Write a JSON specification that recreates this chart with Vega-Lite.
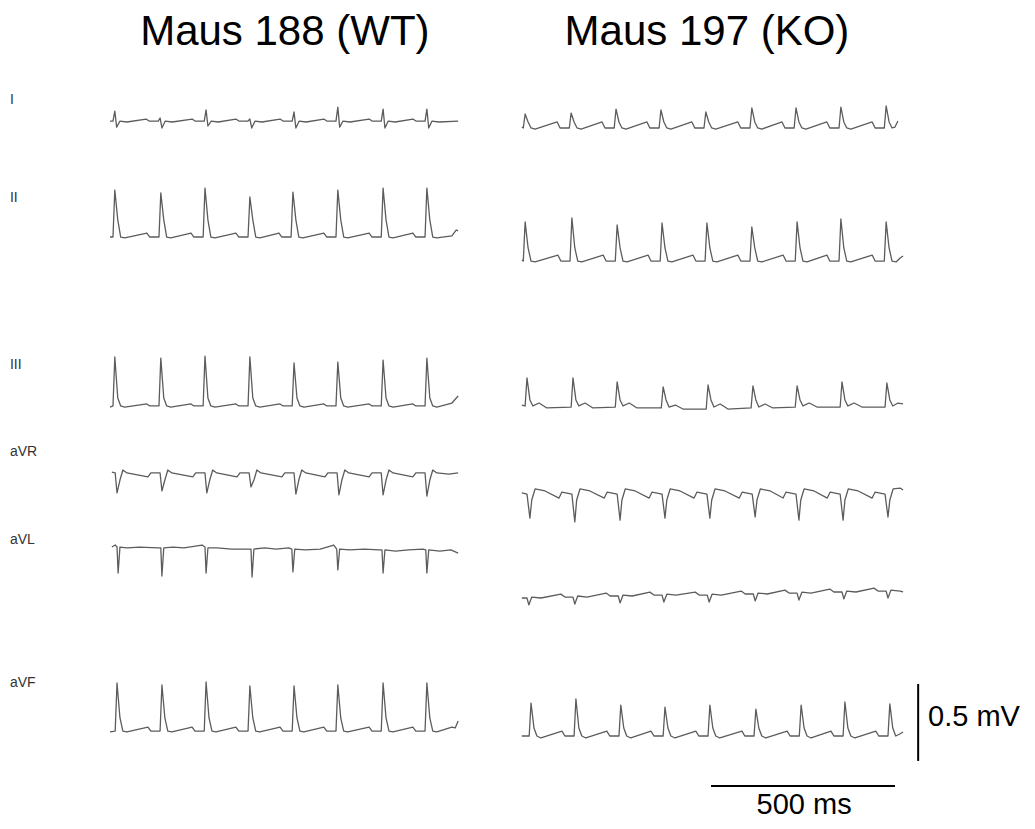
{
  "$schema": "https://vega.github.io/schema/vega-lite/v6.json",
  "width": 1035,
  "height": 829,
  "padding": 0,
  "autosize": {"type": "none"},
  "background": "white",
  "config": {"view": {"stroke": null}},
  "encoding": {
    "x": {"field": "t", "type": "quantitative", "title": "Zeit (ms)", "scale": {"domain": [0, 2812.5], "nice": false, "zero": false}, "axis": null},
    "y": {"field": "v", "type": "quantitative", "title": "Spannung (mV)", "scale": {"domain": [0, 5.3831], "nice": false, "zero": false}, "axis": null}
  },
  "layer": [
    {
      "data": {"values": [
{"s":"WT-I","t":299,"v":4.597},{"s":"WT-I","t":307,"v":4.597},{"s":"WT-I","t":312,"v":4.662},{"s":"WT-I","t":317,"v":4.558},{"s":"WT-I","t":326,"v":4.597},{"s":"WT-I","t":345,"v":4.591},
{"s":"WT-I","t":397,"v":4.610},{"s":"WT-I","t":405,"v":4.597},{"s":"WT-I","t":430,"v":4.597},{"s":"WT-I","t":435,"v":4.617},{"s":"WT-I","t":440,"v":4.552},{"s":"WT-I","t":449,"v":4.597},{"s":"WT-I","t":468,"v":4.591},
{"s":"WT-I","t":522,"v":4.610},{"s":"WT-I","t":530,"v":4.597},{"s":"WT-I","t":555,"v":4.597},{"s":"WT-I","t":560,"v":4.669},{"s":"WT-I","t":565,"v":4.565},{"s":"WT-I","t":574,"v":4.597},{"s":"WT-I","t":593,"v":4.591},
{"s":"WT-I","t":641,"v":4.610},{"s":"WT-I","t":649,"v":4.597},{"s":"WT-I","t":674,"v":4.597},{"s":"WT-I","t":679,"v":4.610},{"s":"WT-I","t":684,"v":4.552},{"s":"WT-I","t":693,"v":4.597},{"s":"WT-I","t":712,"v":4.591},
{"s":"WT-I","t":761,"v":4.610},{"s":"WT-I","t":769,"v":4.597},{"s":"WT-I","t":794,"v":4.597},{"s":"WT-I","t":799,"v":4.656},{"s":"WT-I","t":804,"v":4.552},{"s":"WT-I","t":813,"v":4.597},{"s":"WT-I","t":832,"v":4.591},
{"s":"WT-I","t":880,"v":4.610},{"s":"WT-I","t":888,"v":4.597},{"s":"WT-I","t":913,"v":4.597},{"s":"WT-I","t":918,"v":4.688},{"s":"WT-I","t":923,"v":4.558},{"s":"WT-I","t":932,"v":4.597},{"s":"WT-I","t":951,"v":4.591},
{"s":"WT-I","t":1003,"v":4.610},{"s":"WT-I","t":1011,"v":4.597},{"s":"WT-I","t":1036,"v":4.597},{"s":"WT-I","t":1041,"v":4.675},{"s":"WT-I","t":1046,"v":4.552},{"s":"WT-I","t":1055,"v":4.597},{"s":"WT-I","t":1074,"v":4.591},
{"s":"WT-I","t":1122,"v":4.610},{"s":"WT-I","t":1130,"v":4.597},{"s":"WT-I","t":1155,"v":4.597},{"s":"WT-I","t":1160,"v":4.675},{"s":"WT-I","t":1165,"v":4.552},{"s":"WT-I","t":1174,"v":4.597},{"s":"WT-I","t":1193,"v":4.591},
{"s":"WT-I","t":1245,"v":4.597},

{"s":"WT-II","t":299,"v":3.844},{"s":"WT-II","t":307,"v":3.844},{"s":"WT-II","t":312,"v":4.149},{"s":"WT-II","t":320,"v":3.955},{"s":"WT-II","t":328,"v":3.844},{"s":"WT-II","t":339,"v":3.838},
{"s":"WT-II","t":399,"v":3.870},{"s":"WT-II","t":407,"v":3.844},{"s":"WT-II","t":432,"v":3.844},{"s":"WT-II","t":437,"v":4.130},{"s":"WT-II","t":445,"v":3.955},{"s":"WT-II","t":453,"v":3.844},{"s":"WT-II","t":464,"v":3.838},
{"s":"WT-II","t":519,"v":3.870},{"s":"WT-II","t":527,"v":3.844},{"s":"WT-II","t":552,"v":3.844},{"s":"WT-II","t":557,"v":4.162},{"s":"WT-II","t":565,"v":3.955},{"s":"WT-II","t":573,"v":3.844},{"s":"WT-II","t":584,"v":3.838},
{"s":"WT-II","t":641,"v":3.870},{"s":"WT-II","t":649,"v":3.844},{"s":"WT-II","t":674,"v":3.844},{"s":"WT-II","t":679,"v":4.104},{"s":"WT-II","t":687,"v":3.955},{"s":"WT-II","t":695,"v":3.844},{"s":"WT-II","t":706,"v":3.838},
{"s":"WT-II","t":758,"v":3.870},{"s":"WT-II","t":766,"v":3.844},{"s":"WT-II","t":791,"v":3.844},{"s":"WT-II","t":796,"v":4.136},{"s":"WT-II","t":804,"v":3.955},{"s":"WT-II","t":812,"v":3.844},{"s":"WT-II","t":823,"v":3.838},
{"s":"WT-II","t":880,"v":3.870},{"s":"WT-II","t":888,"v":3.844},{"s":"WT-II","t":913,"v":3.844},{"s":"WT-II","t":918,"v":4.149},{"s":"WT-II","t":926,"v":3.955},{"s":"WT-II","t":934,"v":3.844},{"s":"WT-II","t":945,"v":3.838},
{"s":"WT-II","t":1003,"v":3.870},{"s":"WT-II","t":1011,"v":3.844},{"s":"WT-II","t":1036,"v":3.844},{"s":"WT-II","t":1041,"v":4.162},{"s":"WT-II","t":1049,"v":3.955},{"s":"WT-II","t":1057,"v":3.844},{"s":"WT-II","t":1068,"v":3.838},
{"s":"WT-II","t":1122,"v":3.870},{"s":"WT-II","t":1130,"v":3.844},{"s":"WT-II","t":1155,"v":3.844},{"s":"WT-II","t":1160,"v":4.162},{"s":"WT-II","t":1168,"v":3.955},{"s":"WT-II","t":1176,"v":3.844},{"s":"WT-II","t":1187,"v":3.838},
{"s":"WT-II","t":1228,"v":3.851},{"s":"WT-II","t":1240,"v":3.890},{"s":"WT-II","t":1245,"v":3.883},

{"s":"WT-III","t":299,"v":2.740},{"s":"WT-III","t":307,"v":2.747},{"s":"WT-III","t":312,"v":3.065},{"s":"WT-III","t":320,"v":2.799},{"s":"WT-III","t":328,"v":2.747},{"s":"WT-III","t":339,"v":2.740},
{"s":"WT-III","t":399,"v":2.760},{"s":"WT-III","t":407,"v":2.747},{"s":"WT-III","t":432,"v":2.747},{"s":"WT-III","t":437,"v":3.058},{"s":"WT-III","t":445,"v":2.799},{"s":"WT-III","t":453,"v":2.747},{"s":"WT-III","t":464,"v":2.740},
{"s":"WT-III","t":519,"v":2.760},{"s":"WT-III","t":527,"v":2.747},{"s":"WT-III","t":552,"v":2.747},{"s":"WT-III","t":557,"v":3.071},{"s":"WT-III","t":565,"v":2.799},{"s":"WT-III","t":573,"v":2.747},{"s":"WT-III","t":584,"v":2.740},
{"s":"WT-III","t":641,"v":2.760},{"s":"WT-III","t":649,"v":2.747},{"s":"WT-III","t":674,"v":2.747},{"s":"WT-III","t":679,"v":3.065},{"s":"WT-III","t":687,"v":2.799},{"s":"WT-III","t":695,"v":2.747},{"s":"WT-III","t":706,"v":2.740},
{"s":"WT-III","t":761,"v":2.760},{"s":"WT-III","t":769,"v":2.747},{"s":"WT-III","t":794,"v":2.747},{"s":"WT-III","t":799,"v":3.026},{"s":"WT-III","t":807,"v":2.799},{"s":"WT-III","t":815,"v":2.747},{"s":"WT-III","t":826,"v":2.740},
{"s":"WT-III","t":880,"v":2.760},{"s":"WT-III","t":888,"v":2.747},{"s":"WT-III","t":913,"v":2.747},{"s":"WT-III","t":918,"v":3.032},{"s":"WT-III","t":926,"v":2.799},{"s":"WT-III","t":934,"v":2.747},{"s":"WT-III","t":945,"v":2.740},
{"s":"WT-III","t":1003,"v":2.760},{"s":"WT-III","t":1011,"v":2.747},{"s":"WT-III","t":1036,"v":2.747},{"s":"WT-III","t":1041,"v":3.045},{"s":"WT-III","t":1049,"v":2.799},{"s":"WT-III","t":1057,"v":2.747},{"s":"WT-III","t":1068,"v":2.740},
{"s":"WT-III","t":1122,"v":2.760},{"s":"WT-III","t":1130,"v":2.747},{"s":"WT-III","t":1155,"v":2.747},{"s":"WT-III","t":1160,"v":3.058},{"s":"WT-III","t":1168,"v":2.799},{"s":"WT-III","t":1176,"v":2.747},{"s":"WT-III","t":1187,"v":2.740},
{"s":"WT-III","t":1228,"v":2.766},{"s":"WT-III","t":1245,"v":2.812},

{"s":"WT-aVR","t":304,"v":2.318},{"s":"WT-aVR","t":313,"v":2.312},{"s":"WT-aVR","t":318,"v":2.182},{"s":"WT-aVR","t":326,"v":2.266},{"s":"WT-aVR","t":334,"v":2.331},{"s":"WT-aVR","t":345,"v":2.312},
{"s":"WT-aVR","t":402,"v":2.286},{"s":"WT-aVR","t":410,"v":2.312},{"s":"WT-aVR","t":435,"v":2.312},{"s":"WT-aVR","t":440,"v":2.195},{"s":"WT-aVR","t":448,"v":2.266},{"s":"WT-aVR","t":456,"v":2.331},{"s":"WT-aVR","t":467,"v":2.312},
{"s":"WT-aVR","t":524,"v":2.286},{"s":"WT-aVR","t":532,"v":2.312},{"s":"WT-aVR","t":557,"v":2.312},{"s":"WT-aVR","t":562,"v":2.182},{"s":"WT-aVR","t":570,"v":2.266},{"s":"WT-aVR","t":578,"v":2.331},{"s":"WT-aVR","t":589,"v":2.312},
{"s":"WT-aVR","t":644,"v":2.286},{"s":"WT-aVR","t":652,"v":2.312},{"s":"WT-aVR","t":677,"v":2.312},{"s":"WT-aVR","t":682,"v":2.221},{"s":"WT-aVR","t":690,"v":2.266},{"s":"WT-aVR","t":698,"v":2.331},{"s":"WT-aVR","t":709,"v":2.312},
{"s":"WT-aVR","t":766,"v":2.286},{"s":"WT-aVR","t":774,"v":2.312},{"s":"WT-aVR","t":799,"v":2.312},{"s":"WT-aVR","t":804,"v":2.175},{"s":"WT-aVR","t":812,"v":2.266},{"s":"WT-aVR","t":820,"v":2.331},{"s":"WT-aVR","t":831,"v":2.312},
{"s":"WT-aVR","t":883,"v":2.286},{"s":"WT-aVR","t":891,"v":2.312},{"s":"WT-aVR","t":916,"v":2.312},{"s":"WT-aVR","t":921,"v":2.169},{"s":"WT-aVR","t":929,"v":2.266},{"s":"WT-aVR","t":937,"v":2.331},{"s":"WT-aVR","t":948,"v":2.312},
{"s":"WT-aVR","t":1003,"v":2.286},{"s":"WT-aVR","t":1011,"v":2.312},{"s":"WT-aVR","t":1036,"v":2.312},{"s":"WT-aVR","t":1041,"v":2.169},{"s":"WT-aVR","t":1049,"v":2.266},{"s":"WT-aVR","t":1057,"v":2.331},{"s":"WT-aVR","t":1068,"v":2.312},
{"s":"WT-aVR","t":1122,"v":2.286},{"s":"WT-aVR","t":1130,"v":2.312},{"s":"WT-aVR","t":1155,"v":2.312},{"s":"WT-aVR","t":1160,"v":2.162},{"s":"WT-aVR","t":1168,"v":2.266},{"s":"WT-aVR","t":1176,"v":2.331},{"s":"WT-aVR","t":1187,"v":2.312},
{"s":"WT-aVR","t":1220,"v":2.305},{"s":"WT-aVR","t":1245,"v":2.312},

{"s":"WT-aVL","t":304,"v":1.831},{"s":"WT-aVL","t":313,"v":1.844},{"s":"WT-aVL","t":318,"v":1.831},{"s":"WT-aVL","t":321,"v":1.662},{"s":"WT-aVL","t":326,"v":1.831},{"s":"WT-aVL","t":345,"v":1.825},{"s":"WT-aVL","t":380,"v":1.831},
{"s":"WT-aVL","t":430,"v":1.825},{"s":"WT-aVL","t":437,"v":1.825},{"s":"WT-aVL","t":440,"v":1.643},{"s":"WT-aVL","t":445,"v":1.825},{"s":"WT-aVL","t":470,"v":1.831},{"s":"WT-aVL","t":500,"v":1.825},
{"s":"WT-aVL","t":549,"v":1.844},{"s":"WT-aVL","t":557,"v":1.831},{"s":"WT-aVL","t":560,"v":1.662},{"s":"WT-aVL","t":565,"v":1.825},{"s":"WT-aVL","t":590,"v":1.825},{"s":"WT-aVL","t":630,"v":1.818},
{"s":"WT-aVL","t":674,"v":1.818},{"s":"WT-aVL","t":682,"v":1.818},{"s":"WT-aVL","t":685,"v":1.636},{"s":"WT-aVL","t":690,"v":1.818},{"s":"WT-aVL","t":720,"v":1.825},{"s":"WT-aVL","t":750,"v":1.818},
{"s":"WT-aVL","t":785,"v":1.825},{"s":"WT-aVL","t":793,"v":1.818},{"s":"WT-aVL","t":796,"v":1.669},{"s":"WT-aVL","t":801,"v":1.818},{"s":"WT-aVL","t":830,"v":1.812},{"s":"WT-aVL","t":870,"v":1.818},
{"s":"WT-aVL","t":907,"v":1.844},{"s":"WT-aVL","t":915,"v":1.818},{"s":"WT-aVL","t":918,"v":1.682},{"s":"WT-aVL","t":923,"v":1.818},{"s":"WT-aVL","t":950,"v":1.812},{"s":"WT-aVL","t":990,"v":1.818},
{"s":"WT-aVL","t":1030,"v":1.812},{"s":"WT-aVL","t":1038,"v":1.812},{"s":"WT-aVL","t":1041,"v":1.662},{"s":"WT-aVL","t":1046,"v":1.812},{"s":"WT-aVL","t":1075,"v":1.805},{"s":"WT-aVL","t":1110,"v":1.812},
{"s":"WT-aVL","t":1149,"v":1.818},{"s":"WT-aVL","t":1157,"v":1.812},{"s":"WT-aVL","t":1160,"v":1.662},{"s":"WT-aVL","t":1165,"v":1.812},{"s":"WT-aVL","t":1195,"v":1.805},{"s":"WT-aVL","t":1225,"v":1.812},
{"s":"WT-aVL","t":1245,"v":1.792},

{"s":"WT-aVF","t":299,"v":0.630},{"s":"WT-aVF","t":313,"v":0.636},{"s":"WT-aVF","t":318,"v":0.948},{"s":"WT-aVF","t":326,"v":0.721},{"s":"WT-aVF","t":334,"v":0.636},{"s":"WT-aVF","t":345,"v":0.630},
{"s":"WT-aVF","t":402,"v":0.662},{"s":"WT-aVF","t":410,"v":0.636},{"s":"WT-aVF","t":435,"v":0.636},{"s":"WT-aVF","t":440,"v":0.935},{"s":"WT-aVF","t":448,"v":0.721},{"s":"WT-aVF","t":456,"v":0.636},{"s":"WT-aVF","t":467,"v":0.630},
{"s":"WT-aVF","t":522,"v":0.662},{"s":"WT-aVF","t":530,"v":0.636},{"s":"WT-aVF","t":555,"v":0.636},{"s":"WT-aVF","t":560,"v":0.955},{"s":"WT-aVF","t":568,"v":0.721},{"s":"WT-aVF","t":576,"v":0.636},{"s":"WT-aVF","t":587,"v":0.630},
{"s":"WT-aVF","t":641,"v":0.662},{"s":"WT-aVF","t":649,"v":0.636},{"s":"WT-aVF","t":674,"v":0.636},{"s":"WT-aVF","t":679,"v":0.929},{"s":"WT-aVF","t":687,"v":0.721},{"s":"WT-aVF","t":695,"v":0.636},{"s":"WT-aVF","t":706,"v":0.630},
{"s":"WT-aVF","t":761,"v":0.662},{"s":"WT-aVF","t":769,"v":0.636},{"s":"WT-aVF","t":794,"v":0.636},{"s":"WT-aVF","t":799,"v":0.929},{"s":"WT-aVF","t":807,"v":0.721},{"s":"WT-aVF","t":815,"v":0.636},{"s":"WT-aVF","t":826,"v":0.630},
{"s":"WT-aVF","t":880,"v":0.662},{"s":"WT-aVF","t":888,"v":0.636},{"s":"WT-aVF","t":913,"v":0.636},{"s":"WT-aVF","t":918,"v":0.935},{"s":"WT-aVF","t":926,"v":0.721},{"s":"WT-aVF","t":934,"v":0.636},{"s":"WT-aVF","t":945,"v":0.630},
{"s":"WT-aVF","t":1003,"v":0.662},{"s":"WT-aVF","t":1011,"v":0.636},{"s":"WT-aVF","t":1036,"v":0.636},{"s":"WT-aVF","t":1041,"v":0.948},{"s":"WT-aVF","t":1049,"v":0.721},{"s":"WT-aVF","t":1057,"v":0.636},{"s":"WT-aVF","t":1068,"v":0.630},
{"s":"WT-aVF","t":1122,"v":0.662},{"s":"WT-aVF","t":1130,"v":0.636},{"s":"WT-aVF","t":1155,"v":0.636},{"s":"WT-aVF","t":1160,"v":0.948},{"s":"WT-aVF","t":1168,"v":0.721},{"s":"WT-aVF","t":1176,"v":0.636},{"s":"WT-aVF","t":1187,"v":0.630},
{"s":"WT-aVF","t":1228,"v":0.662},{"s":"WT-aVF","t":1237,"v":0.656},{"s":"WT-aVF","t":1245,"v":0.701},

{"s":"KO-I","t":1418,"v":4.558},{"s":"KO-I","t":1422,"v":4.552},{"s":"KO-I","t":1427,"v":4.643},{"s":"KO-I","t":1435,"v":4.591},{"s":"KO-I","t":1443,"v":4.552},{"s":"KO-I","t":1454,"v":4.545},
{"s":"KO-I","t":1514,"v":4.591},{"s":"KO-I","t":1522,"v":4.552},{"s":"KO-I","t":1547,"v":4.552},{"s":"KO-I","t":1552,"v":4.649},{"s":"KO-I","t":1560,"v":4.591},{"s":"KO-I","t":1568,"v":4.552},{"s":"KO-I","t":1579,"v":4.545},
{"s":"KO-I","t":1636,"v":4.591},{"s":"KO-I","t":1644,"v":4.552},{"s":"KO-I","t":1669,"v":4.552},{"s":"KO-I","t":1674,"v":4.675},{"s":"KO-I","t":1682,"v":4.591},{"s":"KO-I","t":1690,"v":4.552},{"s":"KO-I","t":1701,"v":4.545},
{"s":"KO-I","t":1758,"v":4.591},{"s":"KO-I","t":1766,"v":4.552},{"s":"KO-I","t":1791,"v":4.552},{"s":"KO-I","t":1796,"v":4.669},{"s":"KO-I","t":1804,"v":4.591},{"s":"KO-I","t":1812,"v":4.552},{"s":"KO-I","t":1823,"v":4.545},
{"s":"KO-I","t":1880,"v":4.591},{"s":"KO-I","t":1888,"v":4.552},{"s":"KO-I","t":1913,"v":4.552},{"s":"KO-I","t":1918,"v":4.656},{"s":"KO-I","t":1926,"v":4.591},{"s":"KO-I","t":1934,"v":4.552},{"s":"KO-I","t":1945,"v":4.545},
{"s":"KO-I","t":2005,"v":4.591},{"s":"KO-I","t":2013,"v":4.552},{"s":"KO-I","t":2038,"v":4.552},{"s":"KO-I","t":2043,"v":4.682},{"s":"KO-I","t":2051,"v":4.591},{"s":"KO-I","t":2059,"v":4.552},{"s":"KO-I","t":2070,"v":4.545},
{"s":"KO-I","t":2125,"v":4.591},{"s":"KO-I","t":2133,"v":4.552},{"s":"KO-I","t":2158,"v":4.552},{"s":"KO-I","t":2163,"v":4.682},{"s":"KO-I","t":2171,"v":4.591},{"s":"KO-I","t":2179,"v":4.552},{"s":"KO-I","t":2190,"v":4.545},
{"s":"KO-I","t":2247,"v":4.591},{"s":"KO-I","t":2255,"v":4.552},{"s":"KO-I","t":2280,"v":4.552},{"s":"KO-I","t":2285,"v":4.688},{"s":"KO-I","t":2293,"v":4.591},{"s":"KO-I","t":2301,"v":4.552},{"s":"KO-I","t":2312,"v":4.545},
{"s":"KO-I","t":2370,"v":4.591},{"s":"KO-I","t":2378,"v":4.552},{"s":"KO-I","t":2403,"v":4.552},{"s":"KO-I","t":2408,"v":4.695},{"s":"KO-I","t":2416,"v":4.591},{"s":"KO-I","t":2424,"v":4.552},{"s":"KO-I","t":2432,"v":4.558},
{"s":"KO-I","t":2440,"v":4.597},

{"s":"KO-II","t":1418,"v":3.695},{"s":"KO-II","t":1422,"v":3.688},{"s":"KO-II","t":1427,"v":3.942},{"s":"KO-II","t":1435,"v":3.773},{"s":"KO-II","t":1443,"v":3.688},{"s":"KO-II","t":1454,"v":3.682},
{"s":"KO-II","t":1516,"v":3.727},{"s":"KO-II","t":1524,"v":3.688},{"s":"KO-II","t":1549,"v":3.688},{"s":"KO-II","t":1554,"v":3.968},{"s":"KO-II","t":1562,"v":3.773},{"s":"KO-II","t":1570,"v":3.688},{"s":"KO-II","t":1581,"v":3.682},
{"s":"KO-II","t":1639,"v":3.727},{"s":"KO-II","t":1647,"v":3.688},{"s":"KO-II","t":1672,"v":3.688},{"s":"KO-II","t":1677,"v":3.922},{"s":"KO-II","t":1685,"v":3.773},{"s":"KO-II","t":1693,"v":3.688},{"s":"KO-II","t":1704,"v":3.682},
{"s":"KO-II","t":1761,"v":3.727},{"s":"KO-II","t":1769,"v":3.688},{"s":"KO-II","t":1794,"v":3.688},{"s":"KO-II","t":1799,"v":3.935},{"s":"KO-II","t":1807,"v":3.773},{"s":"KO-II","t":1815,"v":3.688},{"s":"KO-II","t":1826,"v":3.682},
{"s":"KO-II","t":1883,"v":3.727},{"s":"KO-II","t":1891,"v":3.688},{"s":"KO-II","t":1916,"v":3.688},{"s":"KO-II","t":1921,"v":3.935},{"s":"KO-II","t":1929,"v":3.773},{"s":"KO-II","t":1937,"v":3.688},{"s":"KO-II","t":1948,"v":3.682},
{"s":"KO-II","t":2005,"v":3.727},{"s":"KO-II","t":2013,"v":3.688},{"s":"KO-II","t":2038,"v":3.688},{"s":"KO-II","t":2043,"v":3.909},{"s":"KO-II","t":2051,"v":3.773},{"s":"KO-II","t":2059,"v":3.688},{"s":"KO-II","t":2070,"v":3.682},
{"s":"KO-II","t":2128,"v":3.727},{"s":"KO-II","t":2136,"v":3.688},{"s":"KO-II","t":2161,"v":3.688},{"s":"KO-II","t":2166,"v":3.942},{"s":"KO-II","t":2174,"v":3.773},{"s":"KO-II","t":2182,"v":3.688},{"s":"KO-II","t":2193,"v":3.682},
{"s":"KO-II","t":2247,"v":3.727},{"s":"KO-II","t":2255,"v":3.688},{"s":"KO-II","t":2280,"v":3.688},{"s":"KO-II","t":2285,"v":3.961},{"s":"KO-II","t":2293,"v":3.773},{"s":"KO-II","t":2301,"v":3.688},{"s":"KO-II","t":2312,"v":3.682},
{"s":"KO-II","t":2370,"v":3.727},{"s":"KO-II","t":2378,"v":3.688},{"s":"KO-II","t":2403,"v":3.688},{"s":"KO-II","t":2408,"v":3.942},{"s":"KO-II","t":2416,"v":3.773},{"s":"KO-II","t":2424,"v":3.688},{"s":"KO-II","t":2435,"v":3.682},
{"s":"KO-II","t":2446,"v":3.708},{"s":"KO-II","t":2454,"v":3.721},

{"s":"KO-III","t":1418,"v":2.753},{"s":"KO-III","t":1427,"v":2.747},{"s":"KO-III","t":1432,"v":2.929},{"s":"KO-III","t":1440,"v":2.786},{"s":"KO-III","t":1448,"v":2.747},{"s":"KO-III","t":1465,"v":2.766},{"s":"KO-III","t":1486,"v":2.734},
{"s":"KO-III","t":1552,"v":2.740},{"s":"KO-III","t":1557,"v":2.929},{"s":"KO-III","t":1565,"v":2.786},{"s":"KO-III","t":1573,"v":2.747},{"s":"KO-III","t":1590,"v":2.766},{"s":"KO-III","t":1611,"v":2.734},
{"s":"KO-III","t":1672,"v":2.740},{"s":"KO-III","t":1677,"v":2.903},{"s":"KO-III","t":1685,"v":2.786},{"s":"KO-III","t":1693,"v":2.747},{"s":"KO-III","t":1710,"v":2.766},{"s":"KO-III","t":1731,"v":2.734},
{"s":"KO-III","t":1797,"v":2.734},{"s":"KO-III","t":1802,"v":2.870},{"s":"KO-III","t":1810,"v":2.786},{"s":"KO-III","t":1818,"v":2.740},{"s":"KO-III","t":1835,"v":2.753},{"s":"KO-III","t":1856,"v":2.727},
{"s":"KO-III","t":1919,"v":2.727},{"s":"KO-III","t":1924,"v":2.883},{"s":"KO-III","t":1932,"v":2.786},{"s":"KO-III","t":1940,"v":2.740},{"s":"KO-III","t":1957,"v":2.760},{"s":"KO-III","t":1978,"v":2.727},
{"s":"KO-III","t":2041,"v":2.734},{"s":"KO-III","t":2046,"v":2.877},{"s":"KO-III","t":2054,"v":2.786},{"s":"KO-III","t":2062,"v":2.740},{"s":"KO-III","t":2079,"v":2.760},{"s":"KO-III","t":2100,"v":2.734},
{"s":"KO-III","t":2161,"v":2.740},{"s":"KO-III","t":2166,"v":2.877},{"s":"KO-III","t":2174,"v":2.786},{"s":"KO-III","t":2182,"v":2.747},{"s":"KO-III","t":2199,"v":2.766},{"s":"KO-III","t":2220,"v":2.740},
{"s":"KO-III","t":2283,"v":2.740},{"s":"KO-III","t":2288,"v":2.903},{"s":"KO-III","t":2296,"v":2.786},{"s":"KO-III","t":2304,"v":2.747},{"s":"KO-III","t":2321,"v":2.766},{"s":"KO-III","t":2342,"v":2.740},
{"s":"KO-III","t":2405,"v":2.740},{"s":"KO-III","t":2410,"v":2.896},{"s":"KO-III","t":2418,"v":2.786},{"s":"KO-III","t":2426,"v":2.747},{"s":"KO-III","t":2440,"v":2.766},{"s":"KO-III","t":2454,"v":2.760},

{"s":"KO-aVR","t":1418,"v":2.182},{"s":"KO-aVR","t":1432,"v":2.175},{"s":"KO-aVR","t":1440,"v":2.019},{"s":"KO-aVR","t":1445,"v":2.136},{"s":"KO-aVR","t":1454,"v":2.208},{"s":"KO-aVR","t":1481,"v":2.195},
{"s":"KO-aVR","t":1519,"v":2.149},{"s":"KO-aVR","t":1527,"v":2.188},{"s":"KO-aVR","t":1554,"v":2.175},{"s":"KO-aVR","t":1562,"v":1.994},{"s":"KO-aVR","t":1567,"v":2.136},{"s":"KO-aVR","t":1576,"v":2.208},{"s":"KO-aVR","t":1603,"v":2.195},
{"s":"KO-aVR","t":1642,"v":2.149},{"s":"KO-aVR","t":1650,"v":2.188},{"s":"KO-aVR","t":1677,"v":2.175},{"s":"KO-aVR","t":1685,"v":2.006},{"s":"KO-aVR","t":1690,"v":2.136},{"s":"KO-aVR","t":1699,"v":2.208},{"s":"KO-aVR","t":1726,"v":2.195},
{"s":"KO-aVR","t":1764,"v":2.149},{"s":"KO-aVR","t":1772,"v":2.188},{"s":"KO-aVR","t":1799,"v":2.175},{"s":"KO-aVR","t":1807,"v":2.019},{"s":"KO-aVR","t":1812,"v":2.136},{"s":"KO-aVR","t":1821,"v":2.208},{"s":"KO-aVR","t":1848,"v":2.195},
{"s":"KO-aVR","t":1886,"v":2.149},{"s":"KO-aVR","t":1894,"v":2.188},{"s":"KO-aVR","t":1921,"v":2.175},{"s":"KO-aVR","t":1929,"v":2.019},{"s":"KO-aVR","t":1934,"v":2.136},{"s":"KO-aVR","t":1943,"v":2.208},{"s":"KO-aVR","t":1970,"v":2.195},
{"s":"KO-aVR","t":2009,"v":2.149},{"s":"KO-aVR","t":2017,"v":2.188},{"s":"KO-aVR","t":2044,"v":2.175},{"s":"KO-aVR","t":2052,"v":2.026},{"s":"KO-aVR","t":2057,"v":2.136},{"s":"KO-aVR","t":2066,"v":2.208},{"s":"KO-aVR","t":2093,"v":2.195},
{"s":"KO-aVR","t":2128,"v":2.149},{"s":"KO-aVR","t":2136,"v":2.188},{"s":"KO-aVR","t":2163,"v":2.175},{"s":"KO-aVR","t":2171,"v":2.006},{"s":"KO-aVR","t":2176,"v":2.136},{"s":"KO-aVR","t":2185,"v":2.208},{"s":"KO-aVR","t":2212,"v":2.195},
{"s":"KO-aVR","t":2248,"v":2.149},{"s":"KO-aVR","t":2256,"v":2.188},{"s":"KO-aVR","t":2283,"v":2.175},{"s":"KO-aVR","t":2291,"v":2.006},{"s":"KO-aVR","t":2296,"v":2.136},{"s":"KO-aVR","t":2305,"v":2.208},{"s":"KO-aVR","t":2332,"v":2.195},
{"s":"KO-aVR","t":2370,"v":2.149},{"s":"KO-aVR","t":2378,"v":2.188},{"s":"KO-aVR","t":2405,"v":2.175},{"s":"KO-aVR","t":2413,"v":2.026},{"s":"KO-aVR","t":2418,"v":2.136},{"s":"KO-aVR","t":2427,"v":2.208},{"s":"KO-aVR","t":2446,"v":2.214},
{"s":"KO-aVR","t":2454,"v":2.201},

{"s":"KO-aVL","t":1418,"v":1.500},{"s":"KO-aVL","t":1432,"v":1.500},{"s":"KO-aVL","t":1437,"v":1.455},{"s":"KO-aVL","t":1445,"v":1.506},{"s":"KO-aVL","t":1470,"v":1.500},
{"s":"KO-aVL","t":1524,"v":1.525},{"s":"KO-aVL","t":1535,"v":1.506},{"s":"KO-aVL","t":1557,"v":1.506},{"s":"KO-aVL","t":1562,"v":1.461},{"s":"KO-aVL","t":1570,"v":1.513},{"s":"KO-aVL","t":1595,"v":1.506},
{"s":"KO-aVL","t":1647,"v":1.532},{"s":"KO-aVL","t":1658,"v":1.513},{"s":"KO-aVL","t":1680,"v":1.513},{"s":"KO-aVL","t":1685,"v":1.468},{"s":"KO-aVL","t":1693,"v":1.519},{"s":"KO-aVL","t":1718,"v":1.513},
{"s":"KO-aVL","t":1766,"v":1.538},{"s":"KO-aVL","t":1777,"v":1.519},{"s":"KO-aVL","t":1799,"v":1.519},{"s":"KO-aVL","t":1804,"v":1.474},{"s":"KO-aVL","t":1812,"v":1.525},{"s":"KO-aVL","t":1837,"v":1.519},
{"s":"KO-aVL","t":1889,"v":1.538},{"s":"KO-aVL","t":1900,"v":1.519},{"s":"KO-aVL","t":1922,"v":1.519},{"s":"KO-aVL","t":1927,"v":1.474},{"s":"KO-aVL","t":1935,"v":1.525},{"s":"KO-aVL","t":1960,"v":1.519},
{"s":"KO-aVL","t":2014,"v":1.545},{"s":"KO-aVL","t":2025,"v":1.526},{"s":"KO-aVL","t":2047,"v":1.526},{"s":"KO-aVL","t":2052,"v":1.481},{"s":"KO-aVL","t":2060,"v":1.532},{"s":"KO-aVL","t":2085,"v":1.526},
{"s":"KO-aVL","t":2133,"v":1.551},{"s":"KO-aVL","t":2144,"v":1.532},{"s":"KO-aVL","t":2166,"v":1.532},{"s":"KO-aVL","t":2171,"v":1.487},{"s":"KO-aVL","t":2179,"v":1.538},{"s":"KO-aVL","t":2204,"v":1.532},
{"s":"KO-aVL","t":2255,"v":1.558},{"s":"KO-aVL","t":2266,"v":1.539},{"s":"KO-aVL","t":2288,"v":1.539},{"s":"KO-aVL","t":2293,"v":1.494},{"s":"KO-aVL","t":2301,"v":1.545},{"s":"KO-aVL","t":2326,"v":1.539},
{"s":"KO-aVL","t":2375,"v":1.564},{"s":"KO-aVL","t":2386,"v":1.545},{"s":"KO-aVL","t":2408,"v":1.545},{"s":"KO-aVL","t":2413,"v":1.500},{"s":"KO-aVL","t":2421,"v":1.551},{"s":"KO-aVL","t":2446,"v":1.545},
{"s":"KO-aVL","t":2454,"v":1.539},

{"s":"KO-aVF","t":1418,"v":0.604},{"s":"KO-aVF","t":1438,"v":0.604},{"s":"KO-aVF","t":1443,"v":0.818},{"s":"KO-aVF","t":1451,"v":0.656},{"s":"KO-aVF","t":1459,"v":0.604},{"s":"KO-aVF","t":1470,"v":0.591},
{"s":"KO-aVF","t":1527,"v":0.636},{"s":"KO-aVF","t":1535,"v":0.604},{"s":"KO-aVF","t":1560,"v":0.604},{"s":"KO-aVF","t":1565,"v":0.844},{"s":"KO-aVF","t":1573,"v":0.656},{"s":"KO-aVF","t":1581,"v":0.604},{"s":"KO-aVF","t":1592,"v":0.591},
{"s":"KO-aVF","t":1649,"v":0.636},{"s":"KO-aVF","t":1657,"v":0.604},{"s":"KO-aVF","t":1682,"v":0.604},{"s":"KO-aVF","t":1687,"v":0.805},{"s":"KO-aVF","t":1695,"v":0.656},{"s":"KO-aVF","t":1703,"v":0.604},{"s":"KO-aVF","t":1714,"v":0.591},
{"s":"KO-aVF","t":1769,"v":0.636},{"s":"KO-aVF","t":1777,"v":0.604},{"s":"KO-aVF","t":1802,"v":0.604},{"s":"KO-aVF","t":1807,"v":0.792},{"s":"KO-aVF","t":1815,"v":0.656},{"s":"KO-aVF","t":1823,"v":0.604},{"s":"KO-aVF","t":1834,"v":0.591},
{"s":"KO-aVF","t":1891,"v":0.636},{"s":"KO-aVF","t":1899,"v":0.604},{"s":"KO-aVF","t":1924,"v":0.604},{"s":"KO-aVF","t":1929,"v":0.805},{"s":"KO-aVF","t":1937,"v":0.656},{"s":"KO-aVF","t":1945,"v":0.604},{"s":"KO-aVF","t":1956,"v":0.591},
{"s":"KO-aVF","t":2016,"v":0.636},{"s":"KO-aVF","t":2024,"v":0.604},{"s":"KO-aVF","t":2049,"v":0.604},{"s":"KO-aVF","t":2054,"v":0.779},{"s":"KO-aVF","t":2062,"v":0.656},{"s":"KO-aVF","t":2070,"v":0.604},{"s":"KO-aVF","t":2081,"v":0.591},
{"s":"KO-aVF","t":2139,"v":0.636},{"s":"KO-aVF","t":2147,"v":0.604},{"s":"KO-aVF","t":2172,"v":0.604},{"s":"KO-aVF","t":2177,"v":0.805},{"s":"KO-aVF","t":2185,"v":0.656},{"s":"KO-aVF","t":2193,"v":0.604},{"s":"KO-aVF","t":2204,"v":0.591},
{"s":"KO-aVF","t":2258,"v":0.636},{"s":"KO-aVF","t":2266,"v":0.604},{"s":"KO-aVF","t":2291,"v":0.604},{"s":"KO-aVF","t":2296,"v":0.825},{"s":"KO-aVF","t":2304,"v":0.656},{"s":"KO-aVF","t":2312,"v":0.604},{"s":"KO-aVF","t":2323,"v":0.591},
{"s":"KO-aVF","t":2380,"v":0.636},{"s":"KO-aVF","t":2388,"v":0.604},{"s":"KO-aVF","t":2413,"v":0.604},{"s":"KO-aVF","t":2418,"v":0.812},{"s":"KO-aVF","t":2426,"v":0.656},{"s":"KO-aVF","t":2434,"v":0.604},{"s":"KO-aVF","t":2445,"v":0.617},
{"s":"KO-aVF","t":2454,"v":0.630}
      ]},
      "mark": {"type": "line", "color": "#5c5c5c", "strokeWidth": 1.3, "strokeJoin": "round"},
      "encoding": {
        "detail": {"field": "s", "type": "nominal"}
      }
    },
    {
      "data": {"values": [
        {"bar": "0.5 mV", "t": 2495, "t2": 2495, "v": 0.442, "v2": 0.942},
        {"bar": "500 ms", "t": 1932, "t2": 2432, "v": 0.279, "v2": 0.279}
      ]},
      "mark": {"type": "rule", "color": "#000000", "strokeWidth": 2},
      "encoding": {
        "x2": {"field": "t2"},
        "y2": {"field": "v2"}
      }
    },
    {
      "data": {"values": [
        {"label": "Maus 188 (WT)", "t": 774, "v": 5.091},
        {"label": "Maus 197 (KO)", "t": 1921, "v": 5.091}
      ]},
      "mark": {"type": "text", "font": "Liberation Sans", "fontSize": 42, "color": "#000000", "align": "center", "baseline": "alphabetic"},
      "encoding": {"text": {"field": "label"}}
    },
    {
      "data": {"values": [
        {"label": "I", "t": 27, "v": 4.734},
        {"label": "II", "t": 27, "v": 4.097},
        {"label": "III", "t": 27, "v": 3.013},
        {"label": "aVR", "t": 27, "v": 2.448},
        {"label": "aVL", "t": 27, "v": 1.877},
        {"label": "aVF", "t": 27, "v": 0.948}
      ]},
      "mark": {"type": "text", "font": "Liberation Sans", "fontSize": 14, "color": "#333333", "align": "left", "baseline": "middle"},
      "encoding": {"text": {"field": "label"}}
    },
    {
      "data": {"values": [
        {"label": "0.5 mV", "t": 2522, "v": 0.727}
      ]},
      "mark": {"type": "text", "font": "Liberation Sans", "fontSize": 29, "color": "#000000", "align": "left", "baseline": "middle"},
      "encoding": {"text": {"field": "label"}}
    },
    {
      "data": {"values": [
        {"label": "500 ms", "t": 2185, "v": 0.156}
      ]},
      "mark": {"type": "text", "font": "Liberation Sans", "fontSize": 29, "color": "#000000", "align": "center", "baseline": "middle"},
      "encoding": {"text": {"field": "label"}}
    }
  ]
}
